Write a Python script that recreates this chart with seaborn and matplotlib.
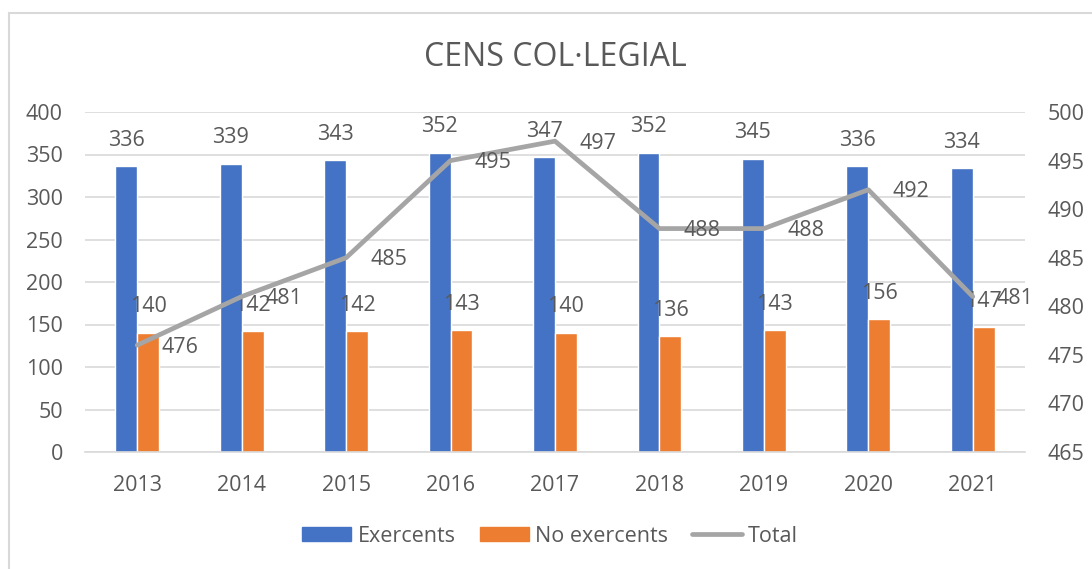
import numpy as np
import pandas as pd
import seaborn as sns
import matplotlib.pyplot as plt
from matplotlib.patches import Rectangle
from matplotlib.lines import Line2D

years = ["2013", "2014", "2015", "2016", "2017", "2018", "2019", "2020", "2021"]
exercents = [336, 339, 343, 352, 347, 352, 345, 336, 334]
no_exercents = [140, 142, 142, 143, 140, 136, 143, 156, 147]
total = [476, 481, 485, 495, 497, 488, 488, 492, 481]

blue = "#4472C4"
orange = "#ED7D31"
grey = "#A5A5A5"
txt = "#595959"
gridc = "#D9D9D9"

df = pd.DataFrame({
    "Any": years * 2,
    "Valor": exercents + no_exercents,
    "Serie": ["Exercents"] * len(years) + ["No exercents"] * len(years),
})

sns.set_style("white")
plt.rcParams["font.family"] = ["Open Sans", "DejaVu Sans"]
fs = 15.5

fig = plt.figure(figsize=(10.92, 5.69), dpi=100)
ax = fig.add_axes([85 / 1092, 1 - 452 / 569, 940 / 1092, 340 / 569])

sns.barplot(data=df, x="Any", y="Valor", hue="Serie", palette=[blue, orange],
            width=0.42, ax=ax, legend=False, saturation=1)
ax.set_ylim(0, 400)
ax.set_yticks(range(0, 401, 50))
ax.set_xlim(-0.5, len(years) - 0.5)
ax.set(xlabel="", ylabel="")
ax.yaxis.grid(True, color=gridc, lw=1.2)
ax.set_axisbelow(True)
for s in ["top", "right", "left"]:
    ax.spines[s].set_visible(False)
ax.spines["bottom"].set_color(gridc)
ax.spines["bottom"].set_linewidth(1.2)
ax.tick_params(axis="y", length=0, pad=16, labelsize=fs, labelcolor=txt)
ax.tick_params(axis="x", length=0, pad=16.5, labelsize=fs, labelcolor=txt)

for cont in ax.containers:
    for bar in cont:
        h = bar.get_height()
        ax.annotate(f"{h:.0f}", (bar.get_x() + bar.get_width() / 2, h),
                    xytext=(0, 26), textcoords="offset pixels",
                    ha="center", va="center", fontsize=fs, color=txt)

ax2 = ax.twinx()
xs = np.arange(len(years))
sns.lineplot(x=xs, y=total, ax=ax2, color=grey, lw=3.4, solid_capstyle="round")
ax2.set_ylim(465, 500)
ax2.set_yticks(range(465, 501, 5))
ax2.set_xlim(-0.5, len(years) - 0.5)
for s in ax2.spines.values():
    s.set_visible(False)
ax2.tick_params(axis="y", length=0, pad=16.5, labelsize=fs, labelcolor=txt)
for x, v in zip(xs, total):
    ax2.annotate(f"{v}", (x, v), xytext=(24, -2), textcoords="offset pixels",
                 ha="left", va="center", fontsize=fs, color=txt)

fig.text(555 / 1092, 1 - 57 / 569, "CENS COL·LEGIAL", ha="center", va="center",
         fontsize=23, color=txt)

handles = [
    Rectangle((0, 0), 1, 1, color=blue),
    Rectangle((0, 0), 1, 1, color=orange),
    Line2D([0], [0], color=grey, lw=3.4, solid_capstyle="round"),
]
fig.legend(handles, ["Exercents", "No exercents", "Total"], loc="center",
           bbox_to_anchor=(550 / 1092, 1 - 536 / 569), ncol=3, frameon=False,
           fontsize=fs, labelcolor=txt, handlelength=2.3, handleheight=0.65,
           handletextpad=0.3, columnspacing=1.1)

fig.patches.append(Rectangle((9 / 1092, -0.1), 1.1, 1 - 13 / 569 + 0.1,
                             transform=fig.transFigure, fill=False,
                             edgecolor=gridc, lw=1.5))

fig.savefig("out.png", dpi=100)
